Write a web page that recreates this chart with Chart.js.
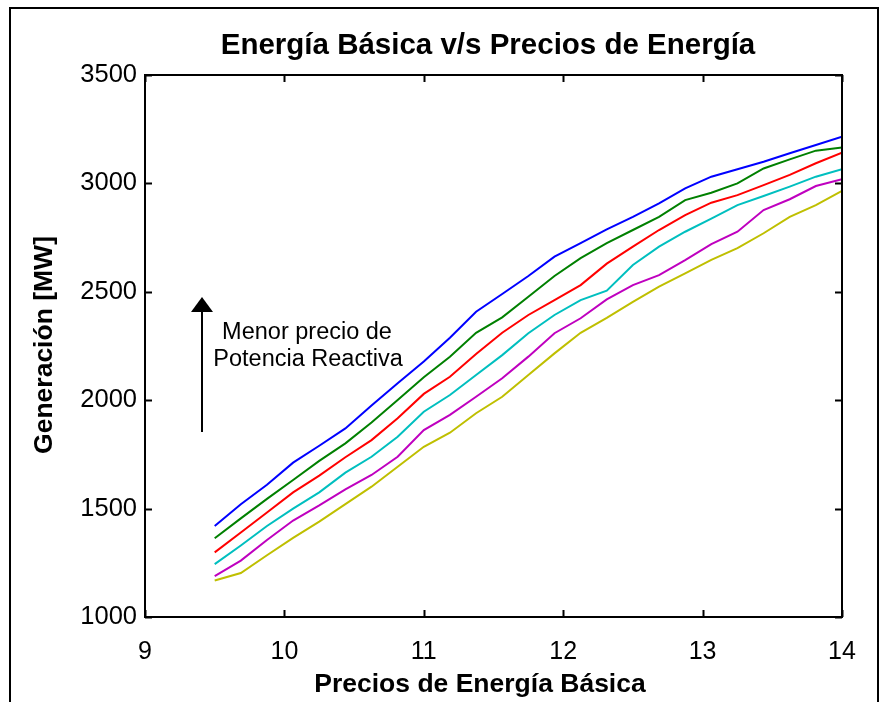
<!DOCTYPE html>
<html>
<head>
<meta charset="utf-8">
<script src="https://cdn.jsdelivr.net/npm/chart.js@4/dist/chart.umd.min.js"></script>
<style>
  html, body { margin: 0; padding: 0; background: #fff; }
  #wrap { width: 886px; height: 702px; }
</style>
</head>
<body>
<div id="wrap"><canvas id="grafico" width="886" height="702"></canvas></div>
<script>
// === Datos: precio de energía básica (eje x) ===
const precios = [9.5, 9.6875, 9.875, 10.0625, 10.25, 10.4375, 10.625, 10.8125, 11.0,
	11.1875, 11.375, 11.5625, 11.75, 11.9375, 12.125, 12.3125, 12.5, 12.6875,
	12.875, 13.0625, 13.25, 13.4375, 13.625, 13.8125, 14.0];

// generación [MW] por cada precio de potencia reactiva (de menor a mayor precio)
const genAzul = [1420, 1520, 1610, 1712, 1790, 1870, 1975, 2078, 2178, 2288, 2408, 2490,
	2573, 2662, 2725, 2788, 2846, 2908, 2977, 3031, 3065, 3100, 3139, 3177, 3215];
const genVerde = [1363, 1455, 1545, 1632, 1720, 1801, 1897, 2001, 2106, 2200, 2311, 2382,
	2477, 2573, 2655, 2725, 2785, 2846, 2923, 2957, 3000, 3069, 3111, 3151, 3166];
const genRojo = [1298, 1390, 1482, 1575, 1652, 1737, 1816, 1917, 2029, 2108, 2213, 2311,
	2393, 2462, 2531, 2630, 2708, 2785, 2854, 2911, 2946, 2992, 3039, 3093, 3142];
const genCian = [1244, 1330, 1420, 1500, 1575, 1666, 1739, 1831, 1947, 2024, 2116, 2208,
	2309, 2393, 2462, 2505, 2624, 2708, 2777, 2838, 2900, 2942, 2985, 3031, 3066];
const genMagenta = [1189, 1260, 1355, 1445, 1515, 1589, 1655, 1739, 1862, 1932, 2016, 2101,
	2201, 2309, 2378, 2465, 2531, 2577, 2646, 2720, 2777, 2877, 2927, 2988, 3019];
const genAmarillo = [1168, 1203, 1285, 1365, 1440, 1521, 1601, 1693, 1785, 1850, 1940, 2016,
	2116, 2216, 2311, 2380, 2454, 2524, 2585, 2647, 2701, 2770, 2846, 2900, 2966];

const ticksX = [9, 10, 11, 12, 13, 14];
const ticksY = [1000, 1500, 2000, 2500, 3000, 3500];

const series = [
	{ datos: genAzul, color: "#0000ff" },
	{ datos: genVerde, color: "#008000" },
	{ datos: genRojo, color: "#ff0000" },
	{ datos: genCian, color: "#00bfbf" },
	{ datos: genMagenta, color: "#bf00bf" },
	{ datos: genAmarillo, color: "#bfbf00" },
];

const FUENTE = "'Liberation Sans', Arial, sans-serif";

// === Marco, marcas hacia adentro, títulos y flecha ===
const extras = {
	id: "extras",
	afterDraw(chart) {
		const ctx = chart.ctx;
		const a = chart.chartArea;
		const sx = chart.scales.x;
		const sy = chart.scales.y;
		ctx.save();

		// marco exterior de la figura
		ctx.strokeStyle = "#000";
		ctx.lineWidth = 2;
		ctx.beginPath();
		ctx.moveTo(10, 702);
		ctx.lineTo(10, 8);
		ctx.lineTo(878, 8);
		ctx.lineTo(878, 702);
		ctx.stroke();

		// caja de ejes
		ctx.strokeRect(a.left, a.top, a.right - a.left, a.bottom - a.top);

		// marcas de los ejes, hacia adentro en los cuatro lados
		const largo = 7;
		ctx.beginPath();
		ticksX.forEach((v) => {
			const px = Math.round(sx.getPixelForValue(v)) + 0.5;
			ctx.moveTo(px, a.bottom);
			ctx.lineTo(px, a.bottom - largo);
			ctx.moveTo(px, a.top);
			ctx.lineTo(px, a.top + largo);
		});
		ticksY.forEach((v) => {
			const py = Math.round(sy.getPixelForValue(v)) + 0.5;
			ctx.moveTo(a.left, py);
			ctx.lineTo(a.left + largo, py);
			ctx.moveTo(a.right, py);
			ctx.lineTo(a.right - largo, py);
		});
		ctx.stroke();

		// títulos
		ctx.fillStyle = "#000";
		ctx.textAlign = "center";
		ctx.textBaseline = "middle";
		ctx.font = "bold 29.5px " + FUENTE;
		ctx.fillText("Energía Básica v/s Precios de Energía", 488, 46);

		ctx.font = "bold 26.5px " + FUENTE;
		ctx.fillText("Precios de Energía Básica", 480, 685);

		ctx.save();
		ctx.translate(45, 345);
		ctx.rotate(-Math.PI / 2);
		ctx.fillText("Generación [MW]", 0, 0);
		ctx.restore();

		// anotación con flecha
		ctx.font = "23.5px " + FUENTE;
		ctx.fillText("Menor precio de", 307, 333);
		ctx.fillText("Potencia Reactiva", 308, 360);

		ctx.beginPath();
		ctx.moveTo(202, 432);
		ctx.lineTo(202, 308);
		ctx.stroke();
		ctx.beginPath();
		ctx.moveTo(202, 297);
		ctx.lineTo(213, 312);
		ctx.lineTo(191, 312);
		ctx.closePath();
		ctx.fill();

		ctx.restore();
	},
};

new Chart(document.getElementById("grafico"), {
	type: "line",
	data: {
		datasets: series.map((s) => ({
			data: precios.map((p, i) => ({ x: p, y: s.datos[i] })),
			borderColor: s.color,
			borderWidth: 2,
			pointRadius: 0,
			tension: 0,
			fill: false,
		})),
	},
	options: {
		responsive: false,
		animation: false,
		layout: { padding: { left: 0, top: 75, right: 44, bottom: 0 } },
		plugins: {
			legend: { display: false },
			tooltip: { enabled: false },
		},
		scales: {
			x: {
				type: "linear",
				min: 9,
				max: 14,
				afterFit: (s) => { s.height = 85; },
				afterBuildTicks: (s) => { s.ticks = ticksX.map((v) => ({ value: v })); },
				grid: { display: false },
				border: { display: false },
				ticks: {
					color: "#000", padding: 12, font: { family: FUENTE, size: 25 },
					callback: (v) => String(v),
				},
			},
			y: {
				type: "linear",
				min: 1000,
				max: 3500,
				afterFit: (s) => { s.width = 145; },
				afterBuildTicks: (s) => { s.ticks = ticksY.map((v) => ({ value: v })); },
				grid: { display: false },
				border: { display: false },
				ticks: {
					color: "#000", padding: 0, font: { family: FUENTE, size: 25.5 },
					callback: (v) => String(v),
				},
			},
		},
	},
	plugins: [extras],
});
</script>
</body>
</html>
